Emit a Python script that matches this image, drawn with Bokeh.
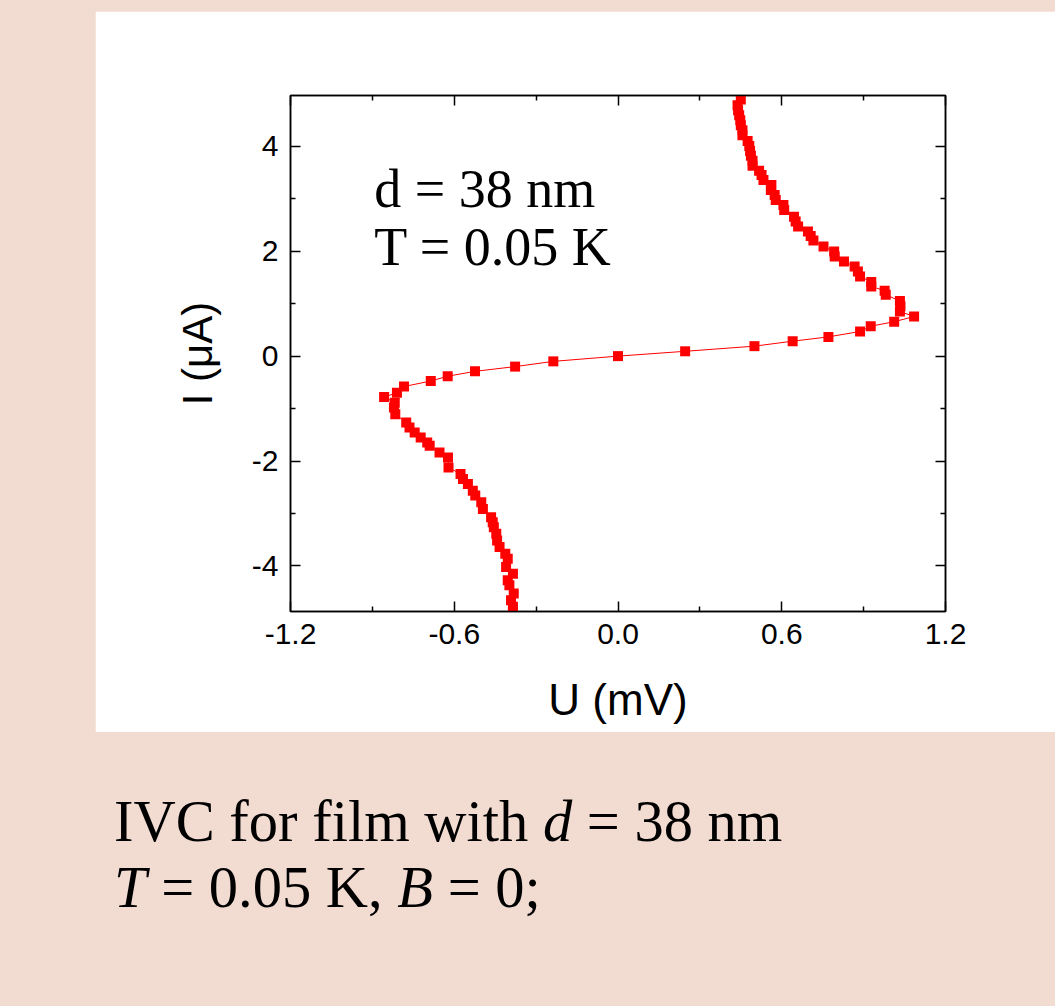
from bokeh.plotting import figure
from bokeh.models import (LinearAxis, FixedTicker, Label, Div, Range1d,
                          CustomJSTickFormatter)
from bokeh.layouts import column
from bokeh.embed import file_html
from bokeh.resources import INLINE

# ---- data: U in mV, I in uA, in order of current sweep
U_mV = [
    -0.385, -0.385, -0.392, -0.382, -0.398, -0.404, -0.385, -0.410, -0.404, -0.413,
    -0.434, -0.443, -0.446, -0.455, -0.459, -0.465, -0.495, -0.501, -0.523, -0.532,
    -0.550, -0.568, -0.577, -0.621, -0.623, -0.654, -0.690, -0.699, -0.723, -0.745,
    -0.764, -0.776, -0.816, -0.821, -0.818,
    -0.857, -0.810, -0.784, -0.686, -0.624, -0.524, -0.377, -0.237, 0.000, 0.246,
    0.500, 0.640, 0.771, 0.887, 0.926, 1.012, 1.085,
    1.033, 1.035, 1.033, 0.981, 0.977, 0.928, 0.928, 0.887, 0.879, 0.867,
    0.828, 0.794, 0.792, 0.753, 0.716, 0.706, 0.696, 0.660, 0.651, 0.645,
    0.609, 0.606, 0.578, 0.574, 0.560, 0.562, 0.533, 0.526, 0.517, 0.493,
    0.493, 0.487, 0.484, 0.481, 0.475, 0.456, 0.456, 0.450, 0.448, 0.444,
    0.440, 0.438, 0.450,
]
I_uA = [
    -4.87, -4.78, -4.655, -4.528, -4.37, -4.275, -4.148, -4.022, -3.863, -3.768,
    -3.642, -3.515, -3.388, -3.262, -3.167, -3.072, -2.913, -2.787, -2.66, -2.565,
    -2.438, -2.343, -2.248, -2.122, -1.932, -1.837, -1.71, -1.647, -1.552, -1.457,
    -1.362, -1.267, -1.108, -0.982, -0.887,
    -0.78, -0.70, -0.58, -0.475, -0.383, -0.29, -0.20, -0.10, 0.0, 0.092,
    0.19, 0.285, 0.367, 0.47, 0.57, 0.656, 0.755,
    0.85, 0.95, 1.05, 1.172, 1.248, 1.33, 1.412, 1.52, 1.615, 1.71,
    1.805, 1.90, 1.995, 2.09, 2.204, 2.293, 2.375, 2.47, 2.565, 2.66,
    2.786, 2.882, 2.977, 3.072, 3.167, 3.262, 3.357, 3.452, 3.534, 3.63,
    3.724, 3.819, 3.914, 4.009, 4.104, 4.212, 4.307, 4.402, 4.497, 4.592,
    4.687, 4.782, 4.896,
]

x_ticks = [-1.2, -0.6, 0.0, 0.6, 1.2]
x_tick_labels = ["-1.2", "-0.6", "0.0", "0.6", "1.2"]
x_minor_ticks = [-0.9, -0.3, 0.3, 0.9]
y_ticks = [-4, -2, 0, 2, 4]
y_tick_labels = ["-4", "-2", "0", "2", "4"]
y_minor_ticks = [-3, -1, 1, 3]

x_title = "U (mV)"
y_title = "I (\u03bcA)"
inset_lines = ["d = 38 nm", "T = 0.05 K"]

PINK = "#f2dcd2"
RED = "#ff0000"

p = figure(width=960, height=721,
           x_range=Range1d(-1.2, 1.2), y_range=Range1d(-4.87, 4.97),
           output_backend="svg", toolbar_location=None,
           min_border_left=195, min_border_right=110,
           min_border_top=84, min_border_bottom=121,
           background_fill_color="white", border_fill_color="white",
           outline_line_color="black", outline_line_width=1.5,
           x_axis_label=x_title, y_axis_label=y_title)
p.margin = (11, 0, 0, 95)
p.xgrid.visible = False
p.ygrid.visible = False

xt = FixedTicker(ticks=x_ticks, minor_ticks=x_minor_ticks)
yt = FixedTicker(ticks=y_ticks, minor_ticks=y_minor_ticks)


def style_axis(ax, ticker):
    ax.ticker = ticker
    ax.axis_line_color = "black"
    ax.axis_line_width = 1.5
    ax.major_tick_in = 10
    ax.major_tick_out = 0
    ax.minor_tick_in = 5
    ax.minor_tick_out = 0
    ax.major_tick_line_width = 1.5
    ax.minor_tick_line_width = 1.5
    ax.major_tick_line_color = "black"
    ax.minor_tick_line_color = "black"
    ax.major_label_text_font = "Liberation Sans"
    ax.major_label_text_font_size = "30px"
    ax.major_label_text_color = "black"
    ax.axis_label_text_font = "Liberation Sans"
    ax.axis_label_text_font_style = "normal"
    ax.axis_label_text_color = "black"


xa = p.xaxis[0]
style_axis(xa, xt)
xa.major_label_overrides = dict(zip(x_ticks, x_tick_labels))
xa.major_label_standoff = 12
xa.axis_label_text_font_size = "44px"
xa.axis_label_standoff = 28

ya = p.yaxis[0]
style_axis(ya, yt)
ya.major_label_overrides = dict(zip(y_ticks, y_tick_labels))
ya.major_label_standoff = 12
ya.axis_label_text_font_size = "42px"
ya.axis_label_standoff = 28

blank = CustomJSTickFormatter(code="return ''")
top = LinearAxis(formatter=blank)
style_axis(top, xt)
right = LinearAxis(formatter=blank)
style_axis(right, yt)
p.add_layout(top, "above")
p.add_layout(right, "right")

p.line(U_mV, I_uA, line_color=RED, line_width=1)
p.scatter(U_mV, I_uA, marker="square", size=10, fill_color=RED,
          line_color=RED, line_width=0)

for txt, yy in zip(inset_lines, [3.19, 2.09]):
    p.add_layout(Label(x=-0.893, y=yy, text=txt, text_font="Liberation Serif",
                       text_font_size="54px", text_color="black",
                       text_baseline="alphabetic", text_align="left"))

cap_html = ('<div style="font-family:\'Liberation Serif\',serif;font-size:58.5px;'
            'line-height:66px;color:#000;white-space:nowrap;">'
            'IVC for film with <i>d</i> = 38 nm<br>'
            '<i>T</i> = 0.05 K, <i>B</i> = 0;</div>')
cap = Div(text=cap_html, width=900, height=150, margin=(57, 0, 0, 114))

root = column(p, cap, width=1055, height=1006, spacing=0,
              styles={"background-color": PINK})

open("out.html", "w").write(file_html(root, INLINE))
